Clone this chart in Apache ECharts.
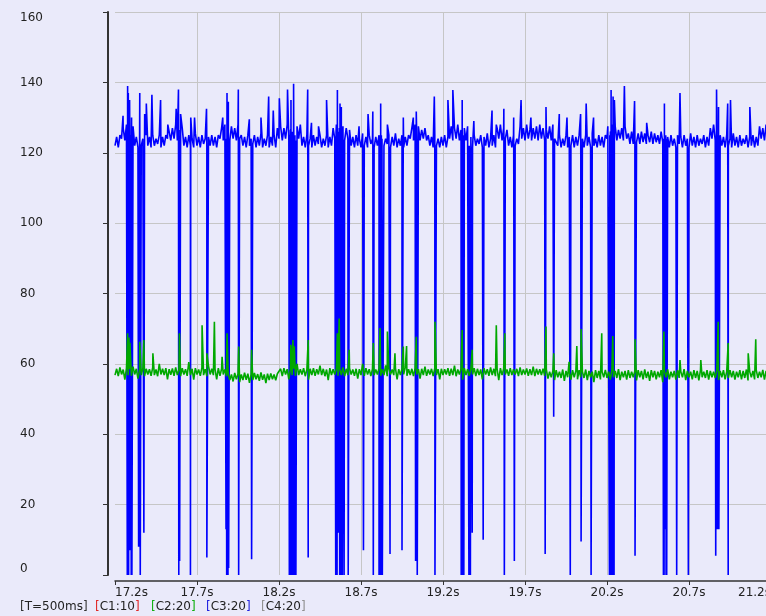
<!DOCTYPE html>
<html>
<head>
<meta charset="utf-8">
<script src="https://cdn.jsdelivr.net/npm/echarts@6/dist/echarts.min.js"></script>
<style>
html,body{margin:0;padding:0;background:#EAEAFA;overflow:hidden;width:766px;height:616px;}
#c{width:790px;height:616px;}
</style>
</head>
<body>
<div id="c"></div>
<script>
// time origin and sampling step (seconds)
var T0 = 17.2;
var STEP = 0.01;
var xTicks = ['17.2s','17.7s','18.2s','18.7s','19.2s','19.7s','20.2s','20.7s','21.2s'];
var yTicks = [0,20,40,60,80,100,120,140,160];
var legendItems = [
  ['[T=500ms]', '#333333', '#222222', 20],
  ['[C1:10]', '#E02828', '#222222', 95],
  ['[C2:20]', '#10B010', '#222222', 151],
  ['[C3:20]', '#2020E0', '#222222', 206],
  ['[C4:20]', '#909090', '#222222', 261]
];

// C3 (blue) baseline samples, one every 10 ms from 17.20 s
var blueBase = [
122,124.5,121.5,125,124,127,123.5,128,124,126.5,123.5,127.5,122,124.5,121.5,125,122,124,121.5,125,
122,124.5,121.5,125,122,124,122.5,125,121.5,124.5,122,125,124,127.5,123.5,127,124,128,123.5,126.5,
124,127,122,124.5,121.5,125,122,124,121.5,125.5,122,124.5,121.5,125,122.5,124,121.5,124.5,122,125,
122,124.5,121.5,125,124,127,123.5,128,124,126.5,123.5,127.5,124,127,123.5,128,124,125,122,124.5,
121.5,125,122,124,122.5,125,121.5,124.5,122,125.5,121.5,124,122,125,121.5,124.5,122,125,121.5,127,
124,127.5,123.5,127,124,128,123.5,126.5,124,127,123.5,127.5,124,128,122,124.5,121.5,125,122,124,
121.5,125,122,124.5,122.5,125,121.5,124,122,125,121.5,124.5,122,127,124,128,123.5,127,124,127.5,
123.5,127,124,126.5,122,124.5,121.5,125,122,124,121.5,125.5,122,124.5,121.5,125,122.5,124,121.5,124.5,
122,125,121.5,124.5,122,124,122.5,125,121.5,124.5,122,125.5,121.5,124,122,125,121.5,124.5,122,125,
124,127,123.5,128,124,127.5,123.5,126.5,124,127,123.5,125,122,124.5,121.5,125,122,124,121.5,124.5,
122,125,121.5,124.5,124,127.5,123.5,127,124,128,123.5,126.5,124,127,123.5,127.5,122,124.5,121.5,125,
122,124,122.5,125,121.5,124.5,122,125.5,121.5,124,122,125,121.5,127,124,128,123.5,127,124,126.5,
122,124.5,121.5,125,122,124,122.5,127.5,124,127,123.5,128,124,126.5,123.5,127,124,127.5,123.5,128,
124,127,123.5,126.5,124,127.5,123.5,128,124,124.5,122,125,121.5,124,122,125,121.5,124.5,122,125,
121.5,124.5,122,125,122.5,124,121.5,125,122,124.5,121.5,125.5,122,124,121.5,125,122,124.5,121.5,125,
124,127,123.5,128,124,127.5,123.5,126.5,124,127,123.5,127.5,124,125.5,122.5,126,122.5,125,123,125.5,
122.5,126,123,125.5,122.5,125,123,126,122.5,125.5,123,125,122.5,126,123,125.5,122,124.5,121.5,125,
122,124,121.5,125,122.5,124.5,121.5,125,122,124,121.5,125.5,122,124.5,121.5,125,122,124,122.5,125,
121.5,124.5,122,127,124,128,123.5,127.5,124,125,122,124.5,121.5,125,122,124,121.5,125.5,122,124.5,
121.5,125,122,124,122.5,125,121.5,124.5,122,125,121.5,124.5,122,127.5,124,127,123.5,128,124,127,
124
];

// C3 drop-outs [time s, value]
var blueDips = [
[17.275,0],[17.277,139],[17.279,0],[17.281,137],[17.283,0],[17.285,124],[17.287,7],[17.289,135],[17.291,7],[17.293,124],[17.295,7],[17.297,125],[17.299,0],[17.301,130],[17.303,0],
[17.344,8],[17.354,0],[17.376,12],
[17.589,0],[17.594,4],
[17.660,0],[17.760,5],
[17.877,13],[17.879,124],[17.881,0],[17.883,137],[17.885,0],[17.887,124],[17.889,0],[17.891,134.5],[17.893,2],
[17.954,0],[18.033,4.5],
[18.263,0],[18.265,125],[18.267,0],[18.269,124],[18.271,0],[18.273,135],[18.275,0],[18.277,124],[18.279,0],[18.281,126],[18.283,0],[18.285,124],[18.287,0],[18.289,139.6],[18.291,0],[18.293,124],[18.295,0],[18.297,125],[18.299,0],[18.301,124],[18.303,0],
[18.378,5],
[18.546,0],[18.548,126],[18.550,0],[18.552,125],[18.554,0],[18.556,137.8],[18.558,12],[18.560,126],[18.562,12],[18.564,125],[18.566,12],[18.568,127],[18.570,0],[18.572,134],[18.574,0],[18.576,125],[18.578,0],[18.580,133],[18.582,0],[18.584,125],[18.586,0],
[18.597,0],[18.622,0],[18.715,7],[18.775,0],
[18.810,0],[18.812,124],[18.814,0],[18.816,125],[18.818,0],[18.820,134],[18.822,0],[18.824,125],[18.826,0],[18.828,124],[18.830,0],
[18.877,6],[18.950,7],[19.033,4],[19.043,0],[19.151,0],
[19.311,0],[19.313,125],[19.315,6],[19.317,135],[19.319,0],[19.321,125],[19.323,6],[19.325,124],[19.327,0],
[19.358,0],[19.367,0],[19.378,12],[19.445,10],[19.574,0],[19.635,4],[19.823,6],
[19.875,45],[19.976,0],[20.042,9.5],[20.103,0],
[20.215,0],[20.217,125],[20.219,0],[20.221,126],[20.223,0],[20.225,137.8],[20.227,0],[20.229,126],[20.231,0],[20.233,125],[20.235,0],[20.237,136],[20.239,0],[20.241,125],[20.243,0],[20.245,135],
[20.371,5.5],
[20.544,0],[20.546,124],[20.548,0],[20.550,134],[20.552,13],[20.554,124],[20.556,13],[20.558,125],[20.560,0],[20.562,124],[20.564,0],
[20.625,0],[20.696,0],
[20.863,5.5],[20.868,138],[20.871,13],[20.874,125],[20.877,13],[20.880,133],[20.882,13],
[20.939,0]
];

// C3 upward spikes [time s, value]
var bluePeaks = [
[17.249,130.5],[17.351,137],[17.381,131],[17.391,134],[17.425,136.5],[17.478,135],[17.522,128],[17.573,132.5],[17.587,138],[17.600,131],[17.662,130],[17.685,130],[17.758,132.5],[17.857,130],[17.952,138],[18.019,129.5],[18.090,130],[18.137,136],[18.165,132],[18.202,135.5],[18.252,138],[18.375,138],[18.398,128.5],[18.441,127.5],[18.490,135],
[18.688,127.5],[18.743,131],[18.772,131.7],[18.861,128],[18.958,130],[19.019,130],[19.037,131.7],[19.147,136],[19.230,135],[19.260,137.8],[19.388,129],[19.499,132],[19.525,128],[19.571,132.5],[19.631,130],[19.676,135],[19.736,130],[19.828,133],
[19.909,131],[19.956,130],[20.039,131],[20.073,134],[20.118,130],[20.205,127.5],[20.306,139],[20.368,134.7],[20.442,128.5],[20.645,137],[20.936,134],[20.953,135],[21.071,133],[21.131,127.5]
];

// C2 (green) baseline samples, one every 10 ms from 17.20 s
var greenBase = [
56.8,58.6,56.5,59,57,58.4,55.5,58.8,56.8,58.5,56.6,59.2,57,58.6,55.8,58.4,56.8,58.8,56.5,58.6,
57,58.5,56.6,59,56.8,58.4,56.5,60,57,58.6,56.8,58.8,55.6,58.5,56.9,58.7,56.6,59,56.8,58.4,
56.5,58.8,57,58.5,56.6,60.5,56.8,58.6,55.5,58.8,57,58.4,56.6,58.9,56.8,58.5,56.5,59.4,57,58.6,
56.8,58.5,55.6,58.8,56.6,58.6,57,58.4,56.5,57.2,55.4,57,55,57.4,55.6,57.2,54.8,57,55.4,57.5,
55.5,57.2,54.6,57,55.4,57.4,55.6,57.1,55.2,57.6,55.5,57,54.5,57.2,55.4,57.3,55.6,57,55.3,57.2,
56.8,58.6,56.5,58.8,57,58.5,55.6,58.7,56.8,58.6,56.6,60,56.8,58.5,57,58.8,56.5,58.4,55.5,58.6,
56.8,58.8,56.6,58.5,57,59.5,56.8,58.6,56.5,58.4,55.4,58.8,56.8,58.5,57,58.7,56.6,58.6,56.8,59,
56.5,58.6,56.8,58.8,57,58.4,56.6,58.6,55.8,58.5,56.8,60,56.6,58.8,57,58.5,56.5,58.6,56.8,58.4,
57,58.8,56.6,58.5,56.8,59.6,56.5,58.6,57,58.4,56.8,58.8,55.6,58.5,56.8,58.6,57,59,56.6,58.5,
56.8,58.6,56.5,58.8,57,58.5,55.8,58.6,56.8,59.2,56.6,58.4,57,58.6,56.5,58.8,56.8,58.5,55.6,58.6,
56.8,58.5,57,58.8,56.6,58.6,56.8,59.5,56.5,58.4,57,58.6,55.5,58.8,56.8,58.5,56.6,58.6,57,58.8,
56.5,58.6,56.8,58.4,55.6,58.8,57,58.5,56.6,59,56.8,58.6,56.5,58.5,55.4,58.8,56.8,58.6,57,58.4,
56.6,58.8,56.8,58.5,57,58.6,56.5,59,56.8,58.4,57,58.7,56.6,58.5,56.8,59.2,56.5,58.6,57,58.5,
56.8,58.6,56.6,58.4,55.8,57.8,56.2,58,55.4,58.2,56.2,57.8,56,58.4,55.2,58,56.2,57.8,55.5,58.2,
56.2,58,55.6,58.2,56.2,57.8,56,58.4,55.4,58,56.2,57.8,54.8,58.2,56,58,55.6,57.8,56.2,58.3,
56,57.8,55.5,58.2,56.2,58,56,58.5,55.4,57.8,56.2,58,55.5,58.2,56,57.8,56.2,58,55.3,58.2,
56.2,58,55.6,58.4,56,57.8,55.2,58.2,56.2,58,55.6,57.8,56.2,58.2,54.8,58,56.2,58.4,55.6,57.8,
56.2,58,55.5,58.2,56,57.8,56.2,58.5,55.4,58,56.2,57.8,55.6,58.2,56,58,55.3,58.2,56.2,57.8,
56,58.2,55.5,58,56.2,57.8,56,58.4,55.4,58,56.2,58.2,55.6,57.8,56,58.2,56.2,58,55.5,57.8,
56.2,58.2,55.6,58,56,58.4,55.3,57.8,56.2,58,55.6,58.2,56,57.8,56.2,58.3,55.5,58,56.2,57.8,
56.2
];

// C2 upward spikes [time s, value]
var greenPeaks = [
[17.277,68.7],[17.285,67.5],[17.291,66],[17.351,66.3],[17.376,66.8],[17.431,63],[17.593,68.7],[17.731,71],[17.760,63],[17.806,72],[17.853,62],[17.883,68.7],[17.954,64.9],[18.033,64],[18.272,65.4],[18.285,66.8],[18.293,65],[18.378,66.8],
[18.556,68.7],[18.567,72.9],[18.628,64],[18.775,65.9],[18.816,70.2],[18.861,69.2],[18.907,63],[18.958,64.9],[18.978,65.1],[19.037,67.7],[19.151,72],[19.317,69.6],[19.378,64],[19.525,71],[19.577,68.7],[19.828,70.6],
[19.875,63],[19.969,60.6],[20.016,65.1],[20.042,69.9],[20.168,68.7],[20.235,67.9],[20.371,67],[20.547,69.2],[20.645,61.1],[20.772,61.1],[20.878,72],[20.939,65.9],[21.061,63],[21.107,67]
];

function build(base, extra) {
  var pts = base.map(function (v, i) { return [+(i * STEP).toFixed(4), v]; });
  extra.forEach(function (e) { pts.push([+(e[0] - T0).toFixed(4), e[1]]); });
  pts.sort(function (a, b) { return a[0] - b[0]; });
  return pts;
}

var blueData = build(blueBase, blueDips.concat(bluePeaks));
var greenData = build(greenBase, greenPeaks);

var FONT = '"DejaVu Sans", Verdana, sans-serif';
var graphics = legendItems.map(function (it) {
  var inner = it[0].slice(1, -1);
  return {
    type: 'text', left: it[3], top: 601,
    style: {
      text: '{b|[}{t|' + inner + '}{b|]}',
      font: '12px ' + FONT,
      rich: {
        b: { fill: it[1], font: '12px ' + FONT },
        t: { fill: it[2], font: '12px ' + FONT }
      }
    }
  };
});

var chart = echarts.init(document.getElementById('c'), null, { renderer: 'canvas' });
chart.setOption({
  animation: false,
  backgroundColor: '#EAEAFA',
  grid: { left: 115, right: 19, top: 12, bottom: 41, containLabel: false },
  xAxis: {
    type: 'value', min: 0, max: 4, interval: 0.5, offset: 6,
    axisLine: { show: true, onZero: false, lineStyle: { color: '#333', width: 1.5 } },
    axisTick: { show: true, length: 4, lineStyle: { color: '#333' } },
    axisLabel: {
      margin: 6, color: '#222', fontSize: 12, fontFamily: FONT,
      alignMinLabel: 'left', alignMaxLabel: 'right',
      formatter: function (v) { return xTicks[Math.round(v / 0.5)]; }
    },
    splitLine: { show: true, showMinLine: false, lineStyle: { color: '#C6C6C6', width: 1 } }
  },
  yAxis: {
    type: 'value', min: yTicks[0], max: yTicks[yTicks.length - 1], interval: 20, offset: 7,
    axisLine: { show: true, onZero: false, lineStyle: { color: '#333', width: 2 } },
    axisTick: { show: true, length: 5, lineStyle: { color: '#333' } },
    axisLabel: {
      margin: 88, align: 'left', color: '#222', fontSize: 12, fontFamily: FONT,
      verticalAlignMaxLabel: 'top', verticalAlignMinLabel: 'bottom'
    },
    splitLine: { show: true, showMinLine: false, lineStyle: { color: '#C6C6C6', width: 1 } }
  },
  graphic: graphics,
  series: [
    { name: 'C3', type: 'line', data: blueData, showSymbol: false, symbol: 'none',
      lineStyle: { color: '#0000FF', width: 1.6, join: 'bevel' }, itemStyle: { color: '#0000FF' }, clip: true },
    { name: 'C2', type: 'line', data: greenData, showSymbol: false, symbol: 'none',
      lineStyle: { color: '#00A800', width: 1.6, join: 'bevel' }, itemStyle: { color: '#00A800' }, clip: true }
  ]
});
</script>
</body>
</html>
